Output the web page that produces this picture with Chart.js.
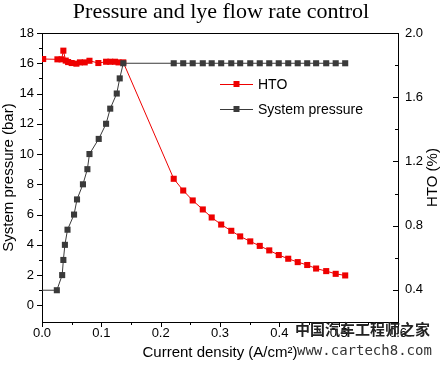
<!DOCTYPE html>
<html>
<head>
<meta charset="utf-8">
<script src="https://cdn.jsdelivr.net/npm/chart.js@4.4.1/dist/chart.umd.min.js"></script>
<style>
  html, body { margin: 0; padding: 0; background: #fff; }
</style>
</head>
<body>
<canvas id="chart" width="442" height="367"></canvas>
<script>
// system pressure (bar) vs current density (A/cm2)
const pressureX = [0, 0.025, 0.034, 0.036, 0.0386, 0.043, 0.054, 0.059, 0.069, 0.0765, 0.080,
    0.0956, 0.108, 0.115, 0.126, 0.131, 0.137,
    0.222, 0.238, 0.254, 0.271, 0.286, 0.302, 0.319, 0.334, 0.351, 0.367,
    0.383, 0.399, 0.415, 0.431, 0.447, 0.462, 0.479, 0.495, 0.511];
const pressureY = [1, 1, 2, 3, 4, 5, 6, 7, 8, 9, 10,
    11, 12, 13, 14, 15, 16,
    16, 16, 16, 16, 16, 16, 16, 16, 16, 16,
    16, 16, 16, 16, 16, 16, 16, 16, 16];

// HTO (%) vs current density
const htoX = [0.002, 0.026, 0.033, 0.036, 0.040, 0.044, 0.050, 0.058, 0.064, 0.072, 0.080,
    0.095, 0.108, 0.115, 0.123, 0.129, 0.137,
    0.222, 0.238, 0.254, 0.271, 0.286, 0.302, 0.319, 0.334, 0.351, 0.367,
    0.383, 0.399, 0.415, 0.431, 0.447, 0.462, 0.479, 0.495, 0.511];
const htoY = [1.838, 1.836, 1.836, 1.89, 1.828, 1.819, 1.813, 1.809, 1.817, 1.817, 1.827,
    1.813, 1.821, 1.821, 1.821, 1.817, 1.817,
    1.092, 1.019, 0.957, 0.901, 0.851, 0.807, 0.768, 0.733, 0.702, 0.674,
    0.646, 0.617, 0.594, 0.573, 0.555, 0.533, 0.517, 0.500, 0.490];

const xTicks = [0, 0.1, 0.2, 0.3, 0.4, 0.5, 0.6];
const pressureTicks = [0, 2, 4, 6, 8, 10, 12, 14, 16, 18];
const htoTicks = [0.4, 0.8, 1.2, 1.6, 2.0];

const RED = '#ee0000';
const DARK = '#3a3a3a';
const SANS = '"Liberation Sans", Arial, sans-serif';

// ticks, legend, right title, chart title and the watermark
const extras = {
    id: 'extras',
    afterDraw(chart) {
        const ctx = chart.ctx;
        const a = chart.chartArea;
        const sx = chart.scales.x, sy = chart.scales.y, sy1 = chart.scales.y1;
        ctx.save();
        ctx.strokeStyle = '#000';
        ctx.lineWidth = 1;

        // box top
        ctx.beginPath();
        ctx.moveTo(a.left, a.top + 0.5);
        ctx.lineTo(a.right, a.top + 0.5);
        ctx.stroke();

        ctx.beginPath();
        // left axis, outward ticks
        for (let v = 0; v <= 18; v++) {
            const y = Math.round(sy.getPixelForValue(v)) + 0.5;
            const len = v % 2 === 0 ? 5 : 3;
            ctx.moveTo(a.left - len, y);
            ctx.lineTo(a.left, y);
        }
        // bottom axis, outward ticks
        for (let i = 0; i <= 12; i++) {
            const x = Math.round(sx.getPixelForValue(i * 0.05)) + 0.5;
            const len = i % 2 === 0 ? 5 : 3;
            ctx.moveTo(x, a.bottom);
            ctx.lineTo(x, a.bottom + len);
        }
        // right axis, inward ticks
        for (let i = 1; i <= 9; i++) {
            const y = Math.round(sy1.getPixelForValue(0.2 * i)) + 0.5;
            const len = i % 2 === 0 ? 5 : 3;
            ctx.moveTo(a.right - len, y);
            ctx.lineTo(a.right, y);
        }
        ctx.stroke();

        // legend
        const items = [
            {label: 'HTO', color: RED, y: 84},
            {label: 'System pressure', color: DARK, y: 109}
        ];
        ctx.font = '14px ' + SANS;
        ctx.textBaseline = 'middle';
        items.forEach(it => {
            ctx.strokeStyle = it.color;
            ctx.beginPath();
            ctx.moveTo(220, it.y + 0.5);
            ctx.lineTo(253, it.y + 0.5);
            ctx.stroke();
            ctx.fillStyle = it.color;
            ctx.fillRect(233.5, it.y - 3, 6, 6);
            ctx.fillStyle = '#000';
            ctx.fillText(it.label, 258, it.y + 1);
        });

        // right axis title, reading bottom to top
        ctx.save();
        ctx.font = '15px ' + SANS;
        ctx.translate(433, (a.top + a.bottom) / 2);
        ctx.rotate(-Math.PI / 2);
        ctx.textAlign = 'center';
        ctx.fillText('HTO (%)', 0, 0);
        ctx.restore();

        // chart title
        ctx.font = '22px "Liberation Serif", "Times New Roman", serif';
        ctx.textAlign = 'center';
        ctx.textBaseline = 'alphabetic';
        ctx.fillText('Pressure and lye flow rate control', 221, 18);

        // watermark
        ctx.fillStyle = '#222';
        ctx.textAlign = 'left';
        ctx.font = 'bold 15px "Noto Sans CJK SC", sans-serif';
        ctx.textBaseline = 'middle';
        ctx.fillText('中国汽车工程师之家', 295, 329);
        ctx.fillStyle = '#333';
        ctx.font = '14px "DejaVu Sans Mono", monospace';
        ctx.fillText('www.cartech8.com', 297, 351);
        ctx.restore();
    }
};

new Chart(document.getElementById('chart'), {
    type: 'line',
    data: {
        datasets: [{
            label: 'System pressure',
            data: pressureX.map((x, i) => ({x: x, y: pressureY[i]})),
            yAxisID: 'y',
            borderColor: DARK,
            borderWidth: 1,
            backgroundColor: DARK,
            pointStyle: 'rect',
            pointRadius: pressureX.map((x, i) => i === 0 ? 0 : 4.3),
            pointBorderWidth: 0,
            tension: 0
        }, {
            label: 'HTO',
            data: htoX.map((x, i) => ({x: x, y: htoY[i]})),
            yAxisID: 'y1',
            borderColor: RED,
            borderWidth: 1,
            backgroundColor: RED,
            pointStyle: 'rect',
            pointRadius: 4.3,
            pointBorderWidth: 0,
            tension: 0
        }]
    },
    options: {
        responsive: false,
        animation: false,
        layout: { padding: { top: 33, left: 0, right: 0, bottom: 0 } },
        plugins: {
            legend: { display: false },
            tooltip: { enabled: false }
        },
        scales: {
            x: {
                type: 'linear',
                min: 0,
                max: 0.6,
                afterBuildTicks: s => { s.ticks = xTicks.map(v => ({value: v})); },
                afterFit: s => { s.height = 45; },
                ticks: {
                    callback: v => v.toFixed(1),
                    color: '#000',
                    font: { family: SANS, size: 13 },
                    padding: 4,
                    maxRotation: 0
                },
                grid: { display: false, drawTicks: false },
                border: { display: true, color: '#000', width: 1 },
                title: {
                    display: true,
                    text: 'Current density (A/cm²)',
                    color: '#000',
                    font: { family: SANS, size: 15 },
                    padding: { top: 0, bottom: 5 }
                }
            },
            y: {
                type: 'linear',
                position: 'left',
                min: -1.1,
                max: 18,
                afterBuildTicks: s => { s.ticks = pressureTicks.map(v => ({value: v})); },
                afterFit: s => { s.width = 42; },
                ticks: {
                    color: '#000',
                    font: { family: SANS, size: 13 },
                    padding: 8
                },
                grid: { display: false, drawTicks: false },
                border: { display: true, color: '#000', width: 1 },
                title: {
                    display: true,
                    text: 'System pressure (bar)',
                    color: '#000',
                    font: { family: SANS, size: 15 },
                    padding: { top: 0, bottom: 0 }
                }
            },
            y1: {
                type: 'linear',
                position: 'right',
                min: 0.2,
                max: 2.0,
                afterBuildTicks: s => { s.ticks = htoTicks.map(v => ({value: v})); },
                afterFit: s => { s.width = 44; },
                ticks: {
                    callback: v => v.toFixed(1),
                    color: '#000',
                    font: { family: SANS, size: 13 },
                    padding: 7
                },
                grid: { display: false, drawTicks: false },
                border: { display: true, color: '#000', width: 1 }
            }
        }
    },
    plugins: [extras]
});
</script>
</body>
</html>
